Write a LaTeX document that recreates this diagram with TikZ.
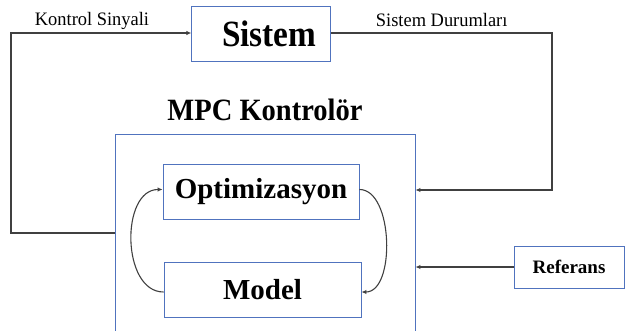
\documentclass[tikz,border=0pt]{standalone}
\usepackage{fontspec}
\setmainfont{Liberation Serif}
\usetikzlibrary{arrows.meta}

\definecolor{kenar}{RGB}{80,115,190}

\tikzset{
    blok/.style={draw=kenar, line width=0.9pt, inner sep=0pt},
    hat/.style={draw=black!75, line width=1.1pt},
    ok/.style={hat, -{Latex[length=5pt,width=4.5pt]}},
}
\newcommand{\dar}[2]{\scalebox{#1}[1]{#2}}

\begin{document}
\begin{tikzpicture}[x=1pt, y=-1pt]
    \useasboundingbox (0, 0) rectangle (631, 331);
    \clip (0, 0) rectangle (631, 331);

    \node[blok, minimum width=139pt, minimum height=55pt, font=\fontsize{37}{39}\selectfont\bfseries] (sistem) at (261.3, 33.5) {\kern16pt\dar{0.9}{Sistem}};
    \node[blok, minimum width=300pt, minimum height=211pt] (mpc) at (265, 239.5) {};
    \node[anchor=base, font=\fontsize{31}{33}\selectfont\bfseries] (baslik) at (265, 120.5) {\dar{0.92}{MPC Kontrolör}};

    \node[blok, minimum width=196pt, minimum height=55pt, font=\fontsize{29}{31}\selectfont\bfseries] (opt) at (261, 191.5) {Optimizasyon};
    \node[blok, minimum width=197pt, minimum height=55pt, font=\fontsize{29}{31}\selectfont\bfseries] (model) at (262.5, 289.5) {Model};
    \node[blok, minimum width=110pt, minimum height=42pt, font=\fontsize{19}{21}\selectfont\bfseries] (ref) at (569, 267) {Referans};

    \node[anchor=base, font=\fontsize{19}{21}\selectfont] (ks) at (92, 26) {\dar{0.97}{Kontrol Sinyali}};
    \node[anchor=base, font=\fontsize{19}{21}\selectfont] (sd) at (441.7, 26.5) {\dar{0.97}{Sistem Durumları}};

    \coordinate (c1) at (11, 233);
    \coordinate (c2) at (11, 33);
    \coordinate (c3) at (552, 33);
    \coordinate (c4) at (552, 190);

    \draw[ok] (c1 -| mpc.west) -- (c1) -- (c2) -- (sistem.west |- c2);
    \draw[ok] (sistem.east |- c3) -- (c3) -- (c4) -- (c4 -| mpc.east);
    \draw[ok] (ref.west) -- (ref.west -| mpc.east);

    \draw[ok] ([yshift=-2.5pt]model.west) to[out=180, in=180, looseness=1.05] ([yshift=2pt]opt.west);
    \draw[ok] ([yshift=2pt]opt.east) to[out=0, in=0, looseness=0.85] ([yshift=-2.5pt]model.east);
\end{tikzpicture}
\end{document}
